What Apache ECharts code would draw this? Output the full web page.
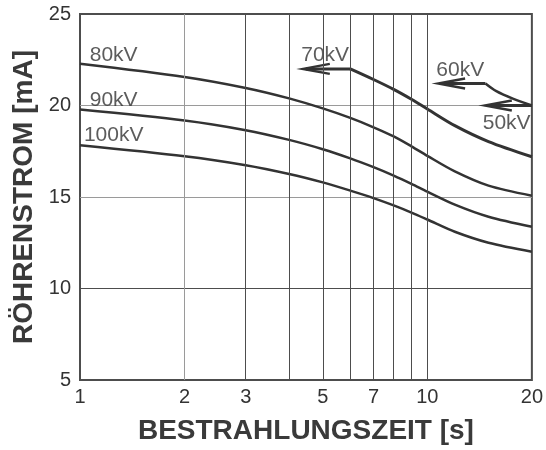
<!DOCTYPE html>
<html>
<head>
<meta charset="utf-8">
<script src="https://cdn.jsdelivr.net/npm/echarts@6/dist/echarts.min.js"></script>
<style>
  html, body { margin: 0; padding: 0; background: #fff; }
  #chart { width: 546px; height: 450px; }
</style>
</head>
<body>
<div id="chart"></div>
<script>
// Exposure time [s] (log scale) and tube current [mA] per tube voltage
const xTickLabels = [1, 2, 3, 5, 7, 10, 20];
const xGridValues = [2, 3, 4, 5, 6, 7, 8, 9, 10];

const times = [1, 2, 3, 4, 5, 6, 7, 8, 9, 10, 12, 15, 20];
const current80kV  = [22.28, 21.56, 20.96, 20.39, 19.84, 19.32, 18.81, 18.31, 17.77, 17.25, 16.40, 15.62, 15.07];
const current90kV  = [19.78, 19.18, 18.65, 18.12, 17.61, 17.11, 16.63, 16.17, 15.72, 15.29, 14.58, 13.92, 13.37];
const current100kV = [17.83, 17.23, 16.74, 16.26, 15.80, 15.35, 14.94, 14.54, 14.15, 13.77, 13.10, 12.50, 12.01];

const times70kV = [6, 7, 8, 9, 10, 12, 15, 20];
const current70kV = [22.0, 21.42, 20.88, 20.34, 19.81, 18.90, 18.03, 17.20];

const times60kV = [14.7, 15.8, 17.7, 20];
const current60kV = [21.2, 20.78, 20.36, 20.0];

// Arrows marking the current limit plateaus (tip time, tail time, current)
const arrowTips  = [4.38, 10.74, 14.64];
const arrowTails = [6, 14.7, 20];
const arrowLevels = [22.0, 21.2, 20.0];

// Voltage labels, anchored at (time, current)
const labelNames = ['80kV', '90kV', '100kV', '70kV', '60kV', '50kV'];
const labelTimes = [1.25, 1.25, 1.25, 5.08, 12.44, 16.92];
const labelCurrents = [22.77, 20.28, 18.36, 22.77, 21.95, 19.01];

const FONT = "'Liberation Sans', Arial, Helvetica, sans-serif";
const INK = '#333333';

const pairs = (xs, ys) => xs.map((x, i) => [x, ys[i]]);

function curve(name, xs, ys, width) {
  return {
    name, type: 'line', data: pairs(xs, ys),
    smooth: 0.3, symbol: 'none', silent: true,
    lineStyle: { color: INK, width: width }
  };
}

const gridSeries = {
  type: 'line', data: [], silent: true, symbol: 'none',
  markLine: {
    silent: true, symbol: ['none', 'none'], label: { show: false },
    animation: false,
    data: xGridValues.map(v => ({
      xAxis: v,
      lineStyle: { color: v === 2 ? '#9a9a9a' : '#4d4d4d', width: 1, type: 'solid' }
    }))
  }
};

const arrowSeries = {
  type: 'custom', silent: true,
  encode: { x: [0, 1], y: 2 },
  data: arrowTips.map((t, i) => [t, arrowTails[i], arrowLevels[i]]),
  renderItem: (params, api) => {
    const tip = api.coord([api.value(0), api.value(2)]);
    const tail = api.coord([api.value(1), api.value(2)]);
    return {
      type: 'group',
      children: [
        { type: 'line',
          shape: { x1: tail[0], y1: tail[1], x2: tip[0] + 3, y2: tip[1] },
          style: { stroke: INK, lineWidth: 3 } },
        { type: 'polyline',
          shape: { points: [[tip[0] + 27, tip[1] - 5], [tip[0], tip[1]], [tip[0] + 27, tip[1] + 5]] },
          style: { stroke: INK, lineWidth: 2.4, fill: null, lineJoin: 'miter' } }
      ]
    };
  }
};

const labelSeries = {
  type: 'scatter', silent: true, symbolSize: 1,
  itemStyle: { color: 'rgba(0,0,0,0)' },
  data: labelNames.map((n, i) => [labelTimes[i], labelCurrents[i], n]),
  label: {
    show: true, position: 'inside',
    formatter: p => p.value[2],
    fontFamily: FONT, fontSize: 21, color: INK
  }
};

const chart = echarts.init(document.getElementById('chart'), null, { renderer: 'canvas' });
chart.setOption({
  animation: false,
  grid: {
    left: 80, top: 14, width: 452, height: 368,
    show: true, borderColor: '#4d4d4d', borderWidth: 2, backgroundColor: 'transparent'
  },
  xAxis: {
    type: 'log', logBase: 10, min: 1, max: 20,
    name: 'BESTRAHLUNGSZEIT [s]', nameLocation: 'middle', nameGap: 37,
    nameTextStyle: { fontFamily: FONT, fontSize: 28, fontWeight: 'bold', color: '#3a3a3a' },
    axisLine: { show: false }, axisTick: { show: false }, splitLine: { show: false },
    axisLabel: {
      customValues: xTickLabels,
      fontFamily: FONT, fontSize: 20, color: INK, margin: 7
    }
  },
  yAxis: {
    type: 'value', min: 5, max: 25, interval: 5,
    name: 'RÖHRENSTROM [mA]', nameLocation: 'middle', nameGap: 38,
    nameTextStyle: { fontFamily: FONT, fontSize: 28, fontWeight: 'bold', color: '#3a3a3a' },
    axisLine: { show: false }, axisTick: { show: false },
    splitLine: { show: true, lineStyle: { color: ['#4d4d4d', '#4d4d4d', '#9a9a9a', '#9a9a9a', '#4d4d4d'], width: 1 } },
    axisLabel: { fontFamily: FONT, fontSize: 20, color: INK, margin: 9 }
  },
  series: [
    gridSeries,
    curve('80kV', times, current80kV, 2.5),
    curve('90kV', times, current90kV, 2.5),
    curve('100kV', times, current100kV, 2.5),
    curve('70kV', times70kV, current70kV, 3),
    curve('60kV', times60kV, current60kV, 2.6),
    arrowSeries,
    labelSeries
  ]
});
</script>
</body>
</html>
